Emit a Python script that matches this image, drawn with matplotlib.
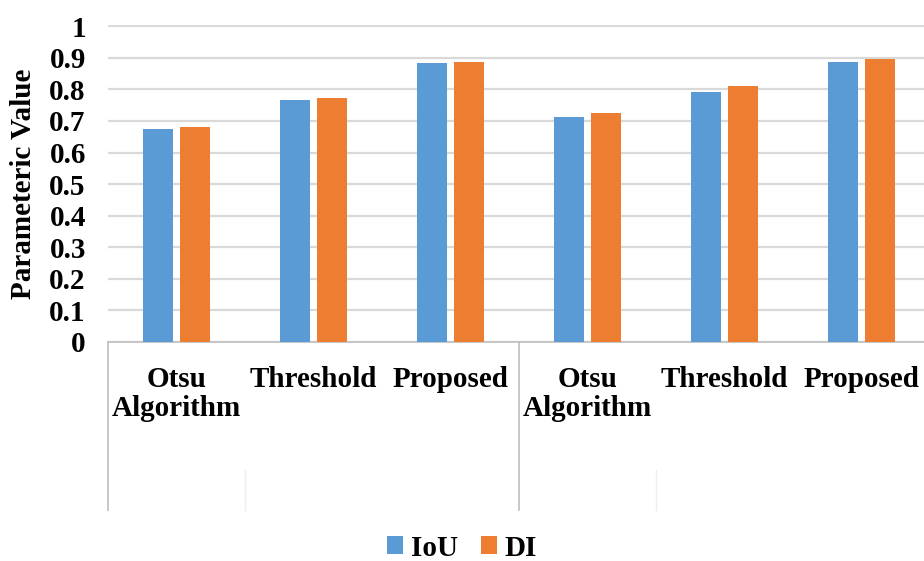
import matplotlib.pyplot as plt
import numpy as np

# chart data
categories = ['Otsu\nAlgorithm', 'Threshold', 'Proposed',
              'Otsu\nAlgorithm', 'Threshold', 'Proposed']
iou = [0.674, 0.765, 0.883, 0.713, 0.791, 0.888]
di = [0.680, 0.772, 0.888, 0.725, 0.810, 0.896]
yticks = [0, 0.1, 0.2, 0.3, 0.4, 0.5, 0.6, 0.7, 0.8, 0.9, 1]
ytick_labels = ['0', '0.1', '0.2', '0.3', '0.4', '0.5', '0.6', '0.7', '0.8', '0.9', '1']

blue = '#5B9BD5'
orange = '#ED7D31'

plt.rcParams['font.family'] = ['Liberation Serif', 'DejaVu Serif']
plt.rcParams['font.weight'] = 'bold'

fig = plt.figure(figsize=(9.24, 5.61), dpi=100)
W, H = 924, 561
ax = fig.add_axes([108 / W, (H - 342) / H, 1 - 108 / W, (342 - 25) / H])

x = np.arange(len(categories))
w = 0.22
ax.bar(x - 0.138, iou, w, color=blue, label='IoU', zorder=3)
ax.bar(x + 0.138, di, w, color=orange, label='DI', zorder=3)

ax.set_xlim(-0.5, -0.5 + (W - 108) / 137)
ax.set_ylim(0, 1.004)
ax.set_yticks(yticks)
ax.set_yticklabels(ytick_labels, fontsize=21, fontweight='bold')
ax.yaxis.grid(True, color='#D9D9D9', linewidth=1.6, zorder=0)
ax.set_axisbelow(True)
ax.tick_params(axis='y', length=0, pad=16)

ax.set_xticks(x)
ax.set_xticklabels(categories, fontsize=21, fontweight='bold', linespacing=1.1)
ax.tick_params(axis='x', length=0, pad=17)

for s in ['top', 'right', 'left']:
    ax.spines[s].set_visible(False)
ax.spines['bottom'].set_color('#BFBFBF')
ax.spines['bottom'].set_linewidth(1.2)

# multi-level category frame below the axis
tr = ax.get_xaxis_transform()
ybot = (342 - 510) / 317
for xv in [-0.5, 2.5]:
    ax.plot([xv, xv], [0, ybot], color='#BFBFBF', lw=1.2, transform=tr, clip_on=False)
for xv in [0.5, 3.5]:
    ax.plot([xv, xv], [(342 - 470) / 317, ybot], color='#EEEEEE', lw=1.0,
            transform=tr, clip_on=False)

fig.text(24 / W, 1 - 184 / H, 'Parameteric Value', rotation=90, fontsize=21,
         fontweight='bold', ha='center', va='center')

fig.legend(loc='center', bbox_to_anchor=(462 / W, 1 - 548 / H), ncol=2,
           frameon=False, handlelength=0.55, handleheight=0.55,
           handletextpad=0.25, columnspacing=0.8,
           prop={'weight': 'bold', 'size': 21})

fig.savefig('out.png', dpi=100)
